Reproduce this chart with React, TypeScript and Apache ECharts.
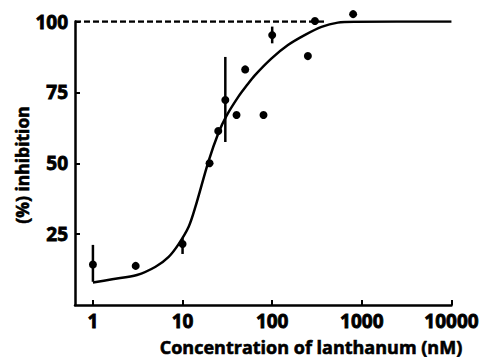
import React, { useEffect, useRef } from "react";
import * as echarts from "echarts";

// Tick values (nM and %)
const xTickValues = [1, 10, 100, 1000, 10000];
const yTickValues = [25, 50, 75, 100];

// Measured points
const concentrations = [1, 3, 10, 20, 25, 30, 40, 50, 80, 100, 250, 300, 800];
const inhibition = [14.3, 13.8, 21.5, 50, 61.4, 72.3, 67, 83.1, 67, 95.2, 87.8, 100.2, 102.6];

// Error bars
const errConc = [1, 10, 30, 100];
const errLow = [8.2, 18, 57.5, 92.3];
const errHigh = [21.2, 23.6, 87.5, 98.2];

// Fitted curve
const curveConc = [1, 1.64, 3.1, 5, 7, 9, 11.7, 13.9, 19.4, 25, 31, 42, 51.6, 64, 98.5, 150, 230, 355, 540, 830, 10000];
const curveInhib = [7.9, 9.1, 10.6, 13.5, 17.0, 21.4, 27.6, 34.6, 50.5, 60.5, 66.8, 73.5, 77.3, 81.0, 87.0, 91.7, 95.2, 98.1, 99.6, 99.9, 100];

// Dashed 100% reference line
const plateauConc = [0.631, 400];
const plateauValue = [100, 100];

const X_MIN_LOG = -0.2;
const X_MAX_LOG = 4;
const FONT = "'Open Sans', 'DejaVu Sans', sans-serif";

const lg = (v: number) => Math.log10(v);

export default function App() {
  const ref = useRef<HTMLDivElement>(null);

  useEffect(() => {
    if (!ref.current) return;
    const chart = echarts.init(ref.current, undefined, { renderer: "svg" });

    const scatterData = concentrations.map((c, i) => [lg(c), inhibition[i]]);
    const curveData = curveConc.map((c, i) => [lg(c), curveInhib[i]]);
    const errData = errConc.map((c, i) => [lg(c), errLow[i], errHigh[i]]);
    const plateauData = plateauConc.map((c, i) => [lg(c), plateauValue[i]]);

    const labelStyle = {
      color: "#000",
      fontFamily: FONT,
      fontWeight: "bold" as const,
      fontSize: 19,
      textBorderColor: "#000",
      textBorderWidth: 0.8,
    };

    chart.setOption({
      animation: false,
      backgroundColor: "#ffffff",
      grid: { left: 75, right: 27, top: 21.5, bottom: 54, containLabel: false },
      xAxis: {
        type: "value",
        min: X_MIN_LOG,
        max: X_MAX_LOG,
        splitLine: { show: false },
        axisLine: { show: true, onZero: false, lineStyle: { color: "#000", width: 2.5 } },
        axisTick: {
          show: true,
          inside: true,
          length: 5,
          lineStyle: { color: "#000", width: 2 },
          customValues: xTickValues.map(lg),
        },
        axisLabel: {
          show: true,
          customValues: xTickValues.map(lg),
          formatter: (v: number) => String(Math.round(Math.pow(10, v))),
          margin: 6,
          ...labelStyle,
        },
      },
      yAxis: {
        type: "value",
        min: 0,
        max: 100,
        splitLine: { show: false },
        axisLine: { show: true, onZero: false, lineStyle: { color: "#000", width: 2.5 } },
        axisTick: {
          show: true,
          inside: true,
          length: 5,
          lineStyle: { color: "#000", width: 2 },
          customValues: yTickValues,
        },
        axisLabel: {
          show: true,
          customValues: yTickValues,
          margin: 7,
          padding: [4, 0, 0, 0],
          ...labelStyle,
        },
      },
      graphic: [
        {
          type: "text",
          x: 311,
          y: 347,
          style: {
            text: "Concentration of lanthanum (nM)",
            fill: "#000",
            font: `bold 18px ${FONT}`,
            lineHeight: 18,
            stroke: "#000",
            lineWidth: 0.6,
            textAlign: "center",
            textVerticalAlign: "middle",
          },
        },
        {
          type: "text",
          x: 21.5,
          y: 165,
          rotation: Math.PI / 2,
          style: {
            text: "(%) inhibition",
            fill: "#000",
            font: `bold 17.5px ${FONT}`,
            stroke: "#000",
            lineWidth: 0.6,
            textAlign: "center",
            textVerticalAlign: "middle",
          },
        },
      ],
      series: [
        {
          type: "line",
          data: plateauData,
          symbol: "none",
          silent: true,
          lineStyle: { color: "#000", width: 2.5, type: [6, 3] },
          z: 1,
        },
        {
          type: "line",
          data: curveData,
          symbol: "none",
          smooth: 0.3,
          silent: true,
          lineStyle: { color: "#000", width: 2.5 },
          z: 2,
        },
        {
          type: "custom",
          data: errData,
          clip: false,
          z: 3,
          renderItem: (params: any, api: any) => {
            const x = api.value(0);
            const p1 = api.coord([x, api.value(1)]);
            const p2 = api.coord([x, api.value(2)]);
            return {
              type: "line",
              shape: { x1: p1[0], y1: p1[1], x2: p2[0], y2: p2[1] },
              style: { stroke: "#000", lineWidth: 2.5 },
            };
          },
        },
        {
          type: "scatter",
          data: scatterData,
          symbol: "circle",
          symbolSize: 8,
          clip: false,
          itemStyle: { color: "#000", opacity: 1 },
          z: 4,
        },
      ],
    });

    return () => chart.dispose();
  }, []);

  return (
    <div
      ref={ref}
      style={{ position: "fixed", left: 0, top: 0, width: 482, height: 359, background: "#fff" }}
    />
  );
}
